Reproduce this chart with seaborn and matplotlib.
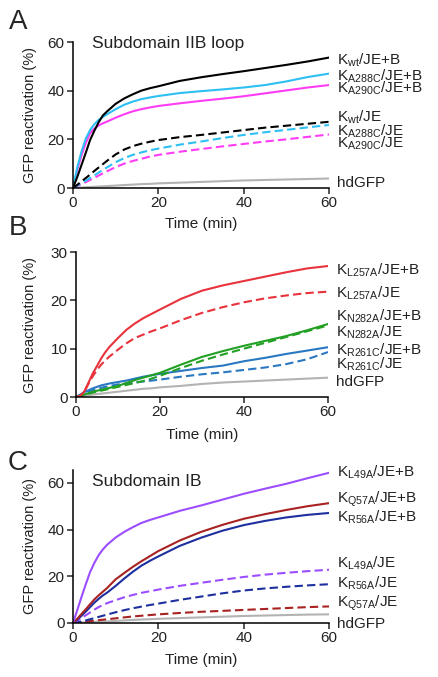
import pandas as pd
import matplotlib
matplotlib.use("Agg")
import matplotlib.pyplot as plt
import seaborn as sns

sns.set_style("ticks")
plt.rcParams['font.family'] = ['Liberation Sans', 'DejaVu Sans']
plt.rcParams['mathtext.default'] = 'regular'

# time points (min), shared by all curves
time = [0, 1, 2, 3, 4, 5, 6, 7, 8, 10, 12, 14, 16, 18, 20, 25, 30, 35, 40, 45, 50, 55, 60]

# Panel A - Subdomain IIB loop
a_wt_b = [0, 4.5, 9.5, 14.5, 19.7, 23.5, 27, 29.8, 31.5, 34.6, 36.8, 38.5, 40, 41, 41.8,
          44, 45.5, 46.8, 48, 49.3, 50.6, 52, 53.6]
a_a288c_b = [0, 8.5, 15, 20.3, 23.8, 26.2, 28, 29.2, 30.3, 32.4, 34.2, 35.5, 36.5, 37.2, 37.8,
             39, 39.8, 40.5, 41.3, 42.3, 43.8, 45.6, 47]
a_a290c_b = [0, 7.5, 13.5, 18.5, 22.5, 24.4, 25.7, 26.6, 27.3, 28.9, 30.3, 31.5, 32.4, 33.1, 33.7,
             34.8, 35.8, 36.7, 37.7, 38.9, 40.1, 41.3, 42.3]
a_wt_je = [0, 1.3, 2.7, 4.1, 5.5, 7, 8.4, 9.8, 11.2, 13.8, 15.8, 17.2, 18.2, 19, 19.7,
           20.9, 21.8, 22.8, 23.8, 24.8, 25.6, 26.4, 27.2]
a_a288c_je = [0, 1, 2, 3, 4.1, 5.2, 6.3, 7.4, 8.5, 10.6, 12.3, 13.6, 14.6, 15.5, 16.2,
              17.8, 19.1, 20.5, 21.8, 22.9, 23.9, 24.9, 25.9]
a_a290c_je = [0, 0.8, 1.6, 2.4, 3.3, 4.2, 5.1, 6, 6.9, 8.6, 10, 11.1, 12, 12.9, 13.6,
              14.9, 16, 17.1, 18.1, 19.1, 20, 21, 22]
a_hd = [0, 0.1, 0.2, 0.3, 0.4, 0.5, 0.6, 0.7, 0.8, 1.0, 1.2, 1.4, 1.6, 1.7, 1.9,
        2.2, 2.5, 2.8, 3.1, 3.3, 3.5, 3.7, 3.9]

# Panel B
b_l257a_b = [0, 0.2, 1.2, 3, 4.9, 6.4, 8, 9.3, 10.4, 12.2, 13.9, 15.2, 16.3, 17.2, 18.1,
             20.3, 22, 23.1, 24, 24.9, 25.8, 26.6, 27.1]
b_l257a_je = [0, 0.2, 1.1, 2.8, 4.3, 5.6, 6.7, 7.6, 8.4, 9.8, 11.1, 12.2, 12.9, 13.6, 14.2,
              15.9, 17.4, 18.6, 19.6, 20.4, 21, 21.5, 21.8]
b_n282a_b = [0, 0.2, 0.5, 0.8, 1.1, 1.3, 1.5, 1.7, 1.9, 2.3, 2.9, 3.5, 4.0, 4.5, 5.0,
             6.7, 8.3, 9.5, 10.6, 11.6, 12.6, 13.8, 15.1]
b_n282a_je = [0, 0.2, 0.4, 0.7, 0.9, 1.1, 1.3, 1.5, 1.7, 2.1, 2.5, 2.9, 3.3, 3.8, 4.4,
              6, 7.5, 8.8, 10, 11.2, 12.4, 13.6, 14.8]
b_r261c_b = [0, 0.5, 1, 1.4, 1.8, 2.1, 2.4, 2.6, 2.8, 3.1, 3.4, 3.8, 4.2, 4.5, 4.8,
             5.4, 6.0, 6.5, 7.4, 8.1, 8.9, 9.6, 10.3]
b_r261c_je = [0, 0.4, 0.8, 1.1, 1.4, 1.7, 1.9, 2.1, 2.3, 2.6, 2.8, 3.0, 3.2, 3.4, 3.6,
              4.2, 4.7, 5.1, 5.6, 6.1, 6.8, 7.8, 9.3]
b_hd = [0, 0.1, 0.2, 0.4, 0.5, 0.6, 0.7, 0.8, 0.9, 1.1, 1.3, 1.5, 1.7, 1.8, 2.0,
        2.3, 2.7, 3.0, 3.2, 3.4, 3.6, 3.8, 4.0]

# Panel C - Subdomain IB
c_l49a_b = [0, 5.5, 11.2, 16.6, 21.8, 25.7, 29, 31.5, 33.5, 36.6, 39, 41, 42.8, 44.1, 45.2,
            48, 50.3, 52.8, 55.3, 57.5, 59.6, 62, 64.3]
c_q57a_b = [0, 1.8, 3.9, 5.9, 8, 10.1, 11.8, 13.4, 15, 18.7, 21.4, 24, 26.4, 28.6, 30.8,
            35.3, 39, 42, 44.6, 46.6, 48.4, 50, 51.3]
c_r56a_b = [0, 1.4, 3.1, 4.9, 6.8, 8.7, 10.3, 11.8, 13, 15.9, 19, 21.9, 24.5, 26.6, 28.5,
            33, 36.5, 39.5, 41.9, 43.7, 45.2, 46.3, 47.1]
c_l49a_je = [0, 1, 2.1, 3.3, 4.5, 5.7, 6.8, 7.7, 8.5, 9.8, 11, 12, 12.9, 13.6, 14.3,
             15.9, 17.2, 18.5, 19.7, 20.7, 21.5, 22.2, 22.8]
c_r56a_je = [0, 0.3, 0.7, 1.1, 1.6, 2.1, 2.6, 3.1, 3.6, 4.6, 5.5, 6.3, 7, 7.7, 8.3,
             9.9, 11.3, 12.7, 13.9, 14.8, 15.5, 16.1, 16.6]
c_q57a_je = [0, 0.2, 0.4, 0.6, 0.8, 1.0, 1.2, 1.4, 1.6, 2.0, 2.4, 2.8, 3.1, 3.4, 3.7,
             4.3, 4.8, 5.2, 5.6, 6.0, 6.4, 6.8, 7.1]
c_hd = [0, 0.1, 0.2, 0.3, 0.4, 0.5, 0.6, 0.6, 0.7, 0.9, 1.1, 1.3, 1.5, 1.6, 1.8,
        2.1, 2.4, 2.7, 3.0, 3.2, 3.4, 3.6, 3.7]

SOLID = '-'
DASH = (0, (4, 2))
GRAY = '#b3b3b3'

# (values, colour, linestyle, label, label y)
panel_a = [
    (a_hd, GRAY, SOLID, 'hdGFP', 2),
    (a_a290c_je, '#ff3cf5', DASH, r'K$_{A290C}$/JE', 18.4),
    (a_a288c_je, '#2ec0f2', DASH, r'K$_{A288C}$/JE', 23.5),
    (a_wt_je, 'black', DASH, r'K$_{wt}$/JE', 29),
    (a_a290c_b, '#ff3cf5', SOLID, r'K$_{A290C}$/JE+B', 41),
    (a_a288c_b, '#2ec0f2', SOLID, r'K$_{A288C}$/JE+B', 46),
    (a_wt_b, 'black', SOLID, r'K$_{wt}$/JE+B', 52.5),
]
panel_b = [
    (b_hd, GRAY, SOLID, 'hdGFP', 3.1),
    (b_r261c_je, '#2a78c2', DASH, r'K$_{R261C}$/JE', 6.7),
    (b_r261c_b, '#2a78c2', SOLID, r'K$_{R261C}$/JE+B', 9.7),
    (b_n282a_je, '#22a024', DASH, r'K$_{N282A}$/JE', 13.4),
    (b_n282a_b, '#22a024', SOLID, r'K$_{N282A}$/JE+B', 16.6),
    (b_l257a_je, '#e8323c', DASH, r'K$_{L257A}$/JE', 21.4),
    (b_l257a_b, '#e8323c', SOLID, r'K$_{L257A}$/JE+B', 26.3),
]
panel_c = [
    (c_hd, GRAY, SOLID, 'hdGFP', -0.3),
    (c_q57a_je, '#a82222', DASH, r'K$_{Q57A}$/JE', 8.3),
    (c_r56a_je, '#1e2f9e', DASH, r'K$_{R56A}$/JE', 16.9),
    (c_l49a_je, '#9b4dff', DASH, r'K$_{L49A}$/JE', 25.4),
    (c_r56a_b, '#1e2f9e', SOLID, r'K$_{R56A}$/JE+B', 45.1),
    (c_q57a_b, '#a82222', SOLID, r'K$_{Q57A}$/JE+B', 52.9),
    (c_l49a_b, '#9b4dff', SOLID, r'K$_{L49A}$/JE+B', 64.7),
]

fig = plt.figure(figsize=(4.39, 6.77), dpi=100)
W, H = 439, 677


def make_ax(left, right, top, bottom):
    return fig.add_axes([left / W, 1 - bottom / H, (right - left) / W, (bottom - top) / H])


axes = [make_ax(73, 329, 42, 188), make_ax(76, 328, 252, 397), make_ax(73, 329, 470, 623)]
panels = [panel_a, panel_b, panel_c]
ylims = [(0, 60), (0, 30), (0, 65.5)]
yticks = [[0, 20, 40, 60], [0, 10, 20, 30], [0, 20, 40, 60]]
letters = [('A', 22), ('B', 228), ('C', 463)]
titles = ['Subdomain IIB loop', None, 'Subdomain IB']
title_y = [59.3, None, 60.4]
ylab_x = [-0.14, -0.155, -0.14]
xlab_y = [-0.2, -0.215, -0.196]

for i, ax in enumerate(axes):
    for vals, col, ls, lab, lab_y in panels[i]:
        sns.lineplot(x=time, y=vals, color=col, linestyle=ls, linewidth=1.5, ax=ax)
        ax.text(61.8, lab_y, lab, fontsize=11, va='center', ha='left', color='#222222',
                clip_on=False)
    ax.set_xlim(0, 60)
    ax.set_ylim(*ylims[i])
    ax.set_xticks([0, 20, 40, 60])
    ax.set_yticks(yticks[i])
    ax.tick_params(labelsize=11, length=4, width=1.1, direction='out', pad=2,
                   labelcolor='#222222')
    for s in ['left', 'bottom']:
        ax.spines[s].set_linewidth(1.1)
        ax.spines[s].set_color('black')
    sns.despine(ax=ax)
    ax.set_xlabel('Time (min)', fontsize=11, color='#222222')
    ax.set_ylabel('GFP reactivation (%)', fontsize=10.5, color='#222222')
    ax.xaxis.set_label_coords(0.5, xlab_y[i])
    ax.yaxis.set_label_coords(ylab_x[i], 0.5)
    if titles[i]:
        ax.text(4.4, title_y[i], titles[i], fontsize=12.5, va='center', ha='left',
                color='#222222')
    letter, ly = letters[i]
    fig.text(18 / W, 1 - ly / H, letter, fontsize=20, va='center', ha='center')

fig.savefig('out.png', dpi=100)
